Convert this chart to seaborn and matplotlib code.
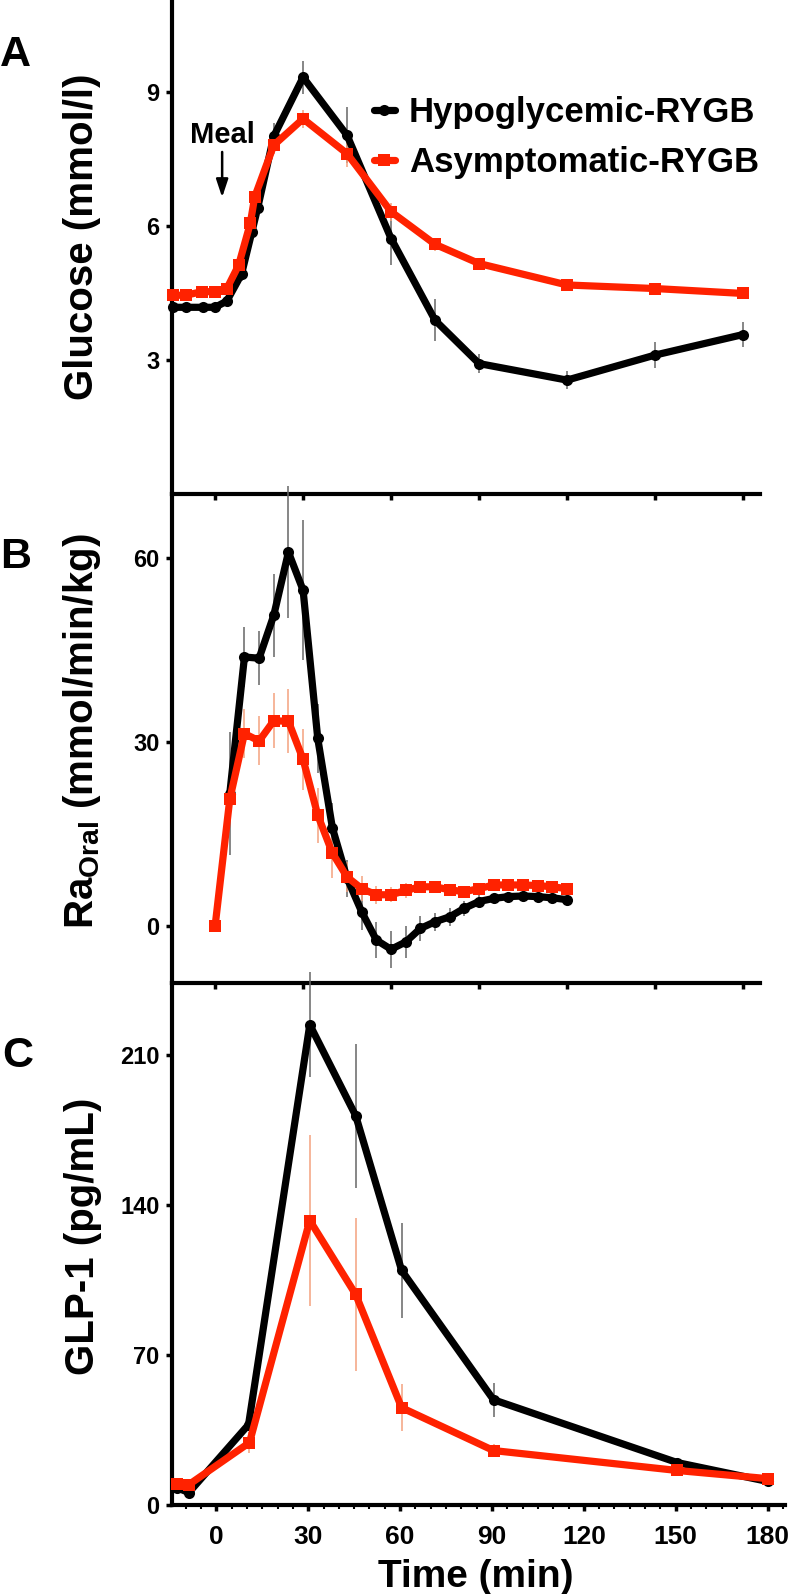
import numpy as np
import pandas as pd
import matplotlib
matplotlib.use("Agg")
import matplotlib.pyplot as plt
from matplotlib.ticker import MultipleLocator
import seaborn as sns

# ---------------- data ----------------
# Panel A: glucose (mmol/l)
hypo_t_A = [-14.5, -10, -4, 0, 4, 9, 12.5, 14.5, 20, 30, 45, 60, 75, 90, 120, 150, 180]
hypo_glu = [4.18, 4.18, 4.18, 4.18, 4.32, 4.92, 5.86, 6.40, 8.01, 9.33, 8.03, 5.72, 3.89, 2.92, 2.55, 3.11, 3.57]
hypo_glu_sem = [0.08, 0.08, 0.08, 0.08, 0.1, 0.15, 0.2, 0.2, 0.3, 0.37, 0.63, 0.6, 0.47, 0.22, 0.2, 0.3, 0.28]
asym_t_A = [-14.5, -10, -4.5, 0, 4, 8, 12, 13.5, 20, 30, 45, 60, 75, 90, 120, 150, 180]
asym_glu = [4.45, 4.45, 4.53, 4.53, 4.60, 5.12, 6.06, 6.65, 7.81, 8.40, 7.62, 6.32, 5.59, 5.16, 4.68, 4.60, 4.49]
asym_glu_sem = [0.08, 0.08, 0.08, 0.08, 0.1, 0.12, 0.15, 0.15, 0.2, 0.2, 0.3, 0.2, 0.15, 0.12, 0.1, 0.1, 0.1]

# Panel B: Ra oral (mmol/min/kg)
hypo_t_B = [5, 10, 15, 20, 25, 30, 35, 40, 45, 50, 55, 60, 65, 70, 75, 80, 85, 90, 95, 100, 105, 110, 115, 120]
hypo_ra = [21.6, 43.9, 43.7, 50.7, 61.0, 54.8, 30.6, 16.0, 7.8, 2.3, -2.3, -3.8, -2.6, -0.4, 0.7, 1.5, 2.9, 4.0, 4.5, 4.8, 4.9, 4.8, 4.6, 4.3]
hypo_ra_sem = [10, 4.9, 4.4, 6.8, 10.8, 11.4, 5.7, 4, 3, 3, 3, 3, 2.6, 2, 1.5, 1.5, 1.2, 1, 0.8, 0.7, 0.6, 0.6, 0.6, 0.6]
asym_t_B = [0, 5, 10, 15, 20, 25, 30, 35, 40, 45, 50, 55, 60, 65, 70, 75, 80, 85, 90, 95, 100, 105, 110, 115, 120]
asym_ra = [0, 20.7, 31.4, 30.2, 33.5, 33.4, 27.2, 18.1, 11.9, 8.0, 6.1, 5.1, 5.1, 5.8, 6.4, 6.4, 5.9, 5.6, 6.1, 6.7, 6.7, 6.7, 6.6, 6.4, 6.1]
asym_ra_sem = [0, 3, 4, 4, 4.5, 5.2, 5, 4.5, 4, 2.5, 2, 1.5, 1.2, 1.2, 1, 1, 1, 1, 0.8, 0.8, 0.8, 0.8, 0.7, 0.7, 0.7]

# Panel C: GLP-1 (pg/mL)
hypo_t_C = [-12.8, -9, 10.5, 30.5, 45.5, 60.5, 90.5, 150.5, 180]
hypo_glp = [8, 5.8, 37.5, 224, 181.6, 109.4, 49.1, 19.8, 11]
hypo_glp_sem = [1, 1, 3, 24.5, 33.6, 22, 8, 2, 1]
asym_t_C = [-12.8, -9, 10.8, 30.5, 45.5, 60.5, 90.5, 150.5, 180]
asym_glp = [9.9, 9.5, 29.1, 132.7, 98.2, 45.4, 25.4, 16.1, 12.3]
asym_glp_sem = [1, 1, 5, 40, 35.5, 11, 3, 2, 1]

labels = ["Hypoglycemic-RYGB", "Asymptomatic-RYGB"]
x_ticks = [0, 30, 60, 90, 120, 150, 180]

# ---------------- style ----------------
sns.set_theme(style="ticks")
plt.rcParams["font.family"] = ["Liberation Sans", "DejaVu Sans"]
plt.rcParams["font.weight"] = "bold"
plt.rcParams["axes.labelweight"] = "bold"
plt.rcParams["text.color"] = "black"
plt.rcParams["axes.labelcolor"] = "black"
plt.rcParams["xtick.color"] = "black"
plt.rcParams["ytick.color"] = "black"
plt.rcParams["axes.edgecolor"] = "black"
plt.rcParams["mathtext.fontset"] = "custom"
plt.rcParams["mathtext.rm"] = "Liberation Sans:bold"
plt.rcParams["mathtext.bf"] = "Liberation Sans:bold"

BLACK = "#000000"
RED = "#FF2200"
BLACK_ERR = "#666666"
RED_ERR = "#F4A27E"

W, H = 791, 1594
fig = plt.figure(figsize=(W / 100, H / 100), dpi=100)


def px_axes(left, top, right, bottom):
    return fig.add_axes([left / W, 1 - bottom / H, (right - left) / W, (bottom - top) / H])


axA = px_axes(172, 0, 760, 494)
axB = px_axes(172, 494, 760, 983)
axC = px_axes(172, 983, 785, 1505)


def draw(ax, t, v, sem, color, ecolor, marker, ms, label=None):
    ax.errorbar(t, v, yerr=sem, fmt="none", ecolor=ecolor, elinewidth=1.1,
                capsize=0, zorder=1, clip_on=False)
    df = pd.DataFrame({"t": t, "v": v})
    sns.lineplot(data=df, x="t", y="v", ax=ax, color=color, linewidth=5.2,
                 marker=marker, markersize=ms, markeredgewidth=0,
                 markeredgecolor=color, label=label, legend=False,
                 zorder=3, clip_on=False, sort=False)


draw(axA, hypo_t_A, hypo_glu, hypo_glu_sem, BLACK, BLACK_ERR, "o", 8, labels[0])
draw(axA, asym_t_A, asym_glu, asym_glu_sem, RED, RED_ERR, "s", 8, labels[1])
draw(axB, hypo_t_B, hypo_ra, hypo_ra_sem, BLACK, BLACK_ERR, "o", 8)
draw(axB, asym_t_B, asym_ra, asym_ra_sem, RED, RED_ERR, "s", 8)
draw(axC, hypo_t_C, hypo_glp, hypo_glp_sem, BLACK, BLACK_ERR, "o", 8)
draw(axC, asym_t_C, asym_glp, asym_glp_sem, RED, RED_ERR, "s", 9)

for ax in (axA, axB, axC):
    ax.set_facecolor("none")
    sns.despine(ax=ax, top=True, right=True)
    ax.spines["left"].set_linewidth(3)
    ax.spines["bottom"].set_linewidth(3)
    ax.spines["left"].set_color("black")
    ax.spines["bottom"].set_color("black")
    ax.tick_params(axis="both", which="major", direction="out", width=2.5,
                   length=4, color="black", labelcolor="black")
    ax.tick_params(axis="y", labelsize=17, pad=5)
    ax.set_xlabel("")
    ax.set_ylabel("")
    ax.set_xticks(x_ticks)

axA.set_xlim(-14.7, 185.8)
axB.set_xlim(-14.7, 185.8)
axC.set_xlim(-14.5, 185.7)

axA.set_ylim(0, 11.06)
axA.set_yticks([3, 6, 9])
axB.set_ylim(-9.3, 70.5)
axB.set_yticks([0, 30, 60])
axC.set_ylim(0, 243.5)
axC.set_yticks([0, 70, 140, 210])

axA.tick_params(axis="x", labelbottom=False)
axB.tick_params(axis="x", labelbottom=False)
axC.xaxis.set_minor_locator(MultipleLocator(5))
axC.tick_params(axis="x", which="minor", direction="out", length=3, width=1.5,
                color="black")
axC.tick_params(axis="x", which="major", labelsize=19, pad=10, length=4.5)

# axis labels
fig.text(82 / W, 1 - 237 / H, "Glucose (mmol/l)", rotation=90, ha="center",
         va="center", fontsize=29, fontweight="bold")
fig.text(82 / W, 1 - 731 / H, r"Ra$_{\mathrm{Oral}}$ (mmol/min/kg)", rotation=90,
         ha="center", va="center", fontsize=29, fontweight="bold")
fig.text(83 / W, 1 - 1236 / H, "GLP-1 (pg/mL)", rotation=90, ha="center",
         va="center", fontsize=29, fontweight="bold")
fig.text(476 / W, 1 - 1577 / H, "Time (min)", ha="center", va="center",
         fontsize=28, fontweight="bold")

# panel letters
fig.text(0 / W, 1 - 55 / H, "A", ha="left", va="center", fontsize=31, fontweight="bold")
fig.text(0 / W, 1 - 557 / H, "B", ha="left", va="center", fontsize=31, fontweight="bold")
fig.text(2 / W, 1 - 1056 / H, "C", ha="left", va="center", fontsize=31, fontweight="bold")

# meal annotation
axA.annotate("", xy=(2.4, 6.58), xytext=(2.4, 7.72),
             arrowprops=dict(arrowstyle="-|>,head_width=0.3,head_length=0.9",
                             color="black", lw=1.8))
axA.text(2.4, 8.04, "Meal", ha="center", va="center", fontsize=21, fontweight="bold")

# legend
leg = axA.legend(loc="upper left", bbox_to_anchor=(374 / W, 1 - 96 / H),
                 bbox_transform=fig.transFigure, frameon=False, fontsize=25,
                 handlelength=0.6, handletextpad=0.4, labelspacing=0.5,
                 borderpad=0, borderaxespad=0)
for txt in leg.get_texts():
    txt.set_fontweight("bold")
    txt.set_color("black")

fig.savefig("out.png", dpi=100, facecolor="white")
